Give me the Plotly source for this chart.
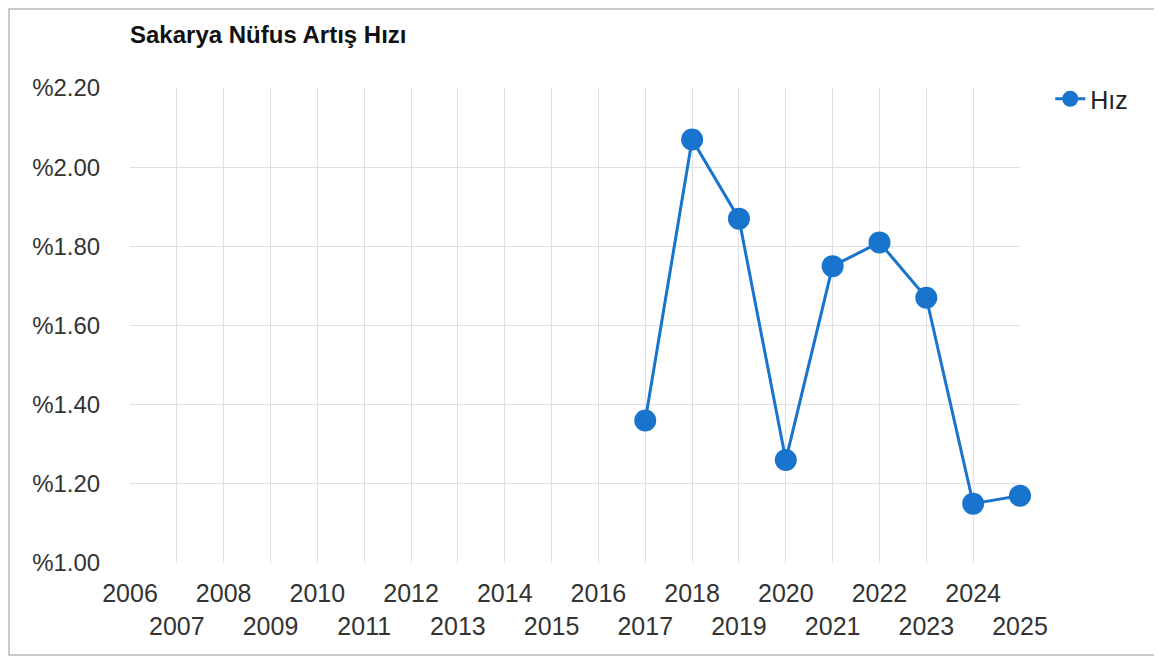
import plotly.graph_objects as go

years = [2017, 2018, 2019, 2020, 2021, 2022, 2023, 2024, 2025]
rates = [1.36, 2.07, 1.87, 1.26, 1.75, 1.81, 1.67, 1.15, 1.17]

x_ticks = list(range(2006, 2026))
x_labels = [str(y) if y % 2 == 0 else "<br>" + str(y) for y in x_ticks]
y_ticks = [1.0, 1.2, 1.4, 1.6, 1.8, 2.0, 2.2]
y_labels = ["%1.00", "%1.20", "%1.40", "%1.60", "%1.80", "%2.00", "%2.20"]

color = "#1874cd"
font_family = "Liberation Sans, Arial, sans-serif"

# page body has an 8px default margin; figure sized/positioned to compensate
W, H = 1154, 649
L, R, T, B = 122, 142, 80, 94
pw, ph = W - L - R, H - T - B

fig = go.Figure()
fig.add_trace(go.Scatter(
    x=years, y=rates, name="Hız", mode="lines+markers",
    line=dict(color=color, width=3),
    marker=dict(color=color, size=22),
    cliponaxis=False,
))

fig.update_layout(
    width=W, height=H,
    margin=dict(l=L, r=R, t=T, b=B),
    paper_bgcolor="white", plot_bgcolor="white",
    font=dict(family=font_family, color="#222", size=22),
    title=dict(text="<b>Sakarya Nüfus Artış Hızı</b>", x=L / W, xanchor="left",
               y=1 - 27 / H, yanchor="middle", font=dict(size=24, color="#111")),
    showlegend=True,
    legend=dict(x=1.034, y=1 + 12 / ph, xanchor="left", yanchor="top", font=dict(size=25, color="#222"),
                bgcolor="rgba(0,0,0,0)"),
    xaxis=dict(range=[2006, 2025], tickvals=x_ticks, ticktext=x_labels, tickangle=0,
               showgrid=True, gridcolor="#dfdfe8", gridwidth=1, zeroline=False,
               ticks="outside", ticklen=8, tickcolor="white", tickfont=dict(size=25, color="#333")),
    yaxis=dict(range=[1.0, 2.2], tickvals=y_ticks, ticktext=y_labels,
               showgrid=True, gridcolor="#dfdfe8", gridwidth=1, zeroline=False,
               ticks="outside", ticklen=24, tickcolor="white", tickfont=dict(size=24, color="#333")),
    shapes=[dict(type="rect", xref="paper", yref="paper",
                 x0=(1 - L) / pw, x1=(W - 4 - L) / pw,
                 y0=-(B - 2) / ph, y1=1 + (T - 1) / ph,
                 line=dict(color="#b8b8c0", width=1.5))],
)

fig.write_html("out.html")
